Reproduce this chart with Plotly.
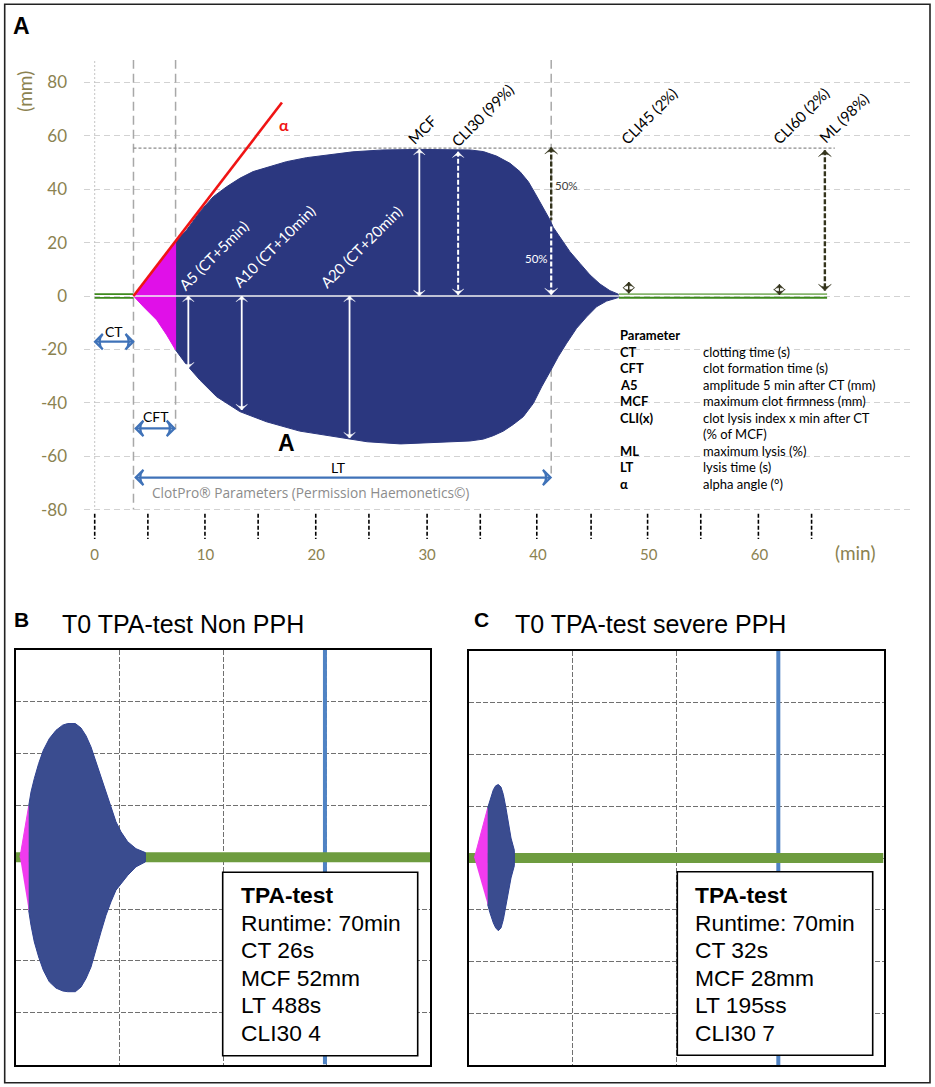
import plotly.graph_objects as go

W, H = 935, 1087

# panel A envelope (minutes, mm)
clot_min_up = [7.3, 8.3, 9.5, 10.7, 11.9, 13.1, 14.3, 15.5, 17.3, 19.1, 21.5, 23.3, 26.0, 29.4, 33.87, 35.07, 36.27, 37.48, 38.38, 39.14, 39.74, 40.34, 41.09, 41.39, 42.14, 42.89, 43.8, 44.7, 45.6, 46.5, 47.25]
clot_mm_up = [20.3, 24.7, 31.6, 37.2, 40.9, 44.1, 46.6, 48.1, 50.3, 51.8, 53.2, 54.0, 54.7, 54.9, 54.7, 54.1, 52.4, 49.7, 46.6, 42.8, 38.5, 34.1, 28.5, 25.7, 21.0, 16.6, 12.2, 7.9, 4.5, 2.0, 0.7]
clot_min_low = [7.3, 8.3, 9.5, 11.0, 13.1, 15.5, 18.5, 21.5, 24.6, 27.6, 33.87, 35.07, 35.98, 36.88, 37.78, 38.68, 39.59, 40.34, 41.09, 41.84, 42.59, 43.49, 44.4, 45.3, 46.2, 47.25]
clot_mm_low = [-20.2, -25.8, -31.5, -37.7, -43.3, -47.1, -50.6, -52.7, -54.6, -55.4, -54.3, -53.6, -52.3, -50.6, -48.1, -45.2, -40.2, -34.0, -28.4, -22.7, -17.7, -12.1, -7.8, -4.0, -1.9, -0.6]
pink_min = [3.5, 4.5, 5.3, 6.4, 7.3, 7.3, 6.5, 5.6, 4.4, 3.5]
pink_mm = [0, 5.5, 9.7, 15.5, 20.3, -20.2, -14.6, -9.0, -4.0, 0]

# panels B and C envelopes
b_pink_min = [0.77, 2.45, 2.45]
b_pink_mm = [0, 19.8, -20.5]
b_min_up = [2.45, 2.9, 3.54, 4.38, 5.28, 6.44, 7.73, 9.02, 9.98, 11.47, 12.56, 13.53, 14.49, 15.46, 16.43, 17.39, 18.36, 19.32, 20.29, 21.58, 23.19, 24.99]
b_mm_up = [19.8, 25.2, 30.4, 36.2, 41.3, 45.8, 49.0, 51.0, 51.6, 51.6, 49.9, 46.9, 42.6, 36.8, 30.4, 24.6, 18.8, 13.7, 9.8, 6.0, 3.3, 1.8]
b_mm_low = [-20.5, -26.3, -32.7, -38.5, -43.6, -48.1, -50.5, -51.6, -51.9, -51.9, -50.1, -46.8, -42.4, -35.9, -28.8, -22.4, -17.2, -12.7, -10.2, -7.0, -3.7, -1.8]
c_pink_min = [1.03, 3.6, 3.6]
c_pink_mm = [0, 19.3, -18.0]
c_min_up = [3.6, 4.05, 4.7, 5.15, 5.66, 6.18, 6.63, 7.08, 7.6, 8.11, 8.75]
c_mm_up = [19.3, 22.5, 26.4, 27.9, 28.4, 27.4, 24.5, 19.9, 13.5, 7.7, 3.0]
c_mm_low = [-18.0, -21.2, -25.1, -27.0, -28.1, -27.0, -23.8, -19.3, -13.5, -7.7, -3.0]
blue_line_min = 59.7

# reference lines of panel A
ct_min = 3.5
cft_min = 7.3
lt_min = 41.2
mcf_mm = 55.4
mcf_line_end = 66.8
green_end = 66.1
clot_end = 47.3
alpha_end_min = 16.9
alpha_end_mm = 72.5
black_tick_min = [0, 4.8, 9.95, 14.75, 19.95, 24.75, 30, 34.8, 39.9, 44.8, 49.9, 54.7, 59.9, 64.7]
y_ticks = [80, 60, 40, 20, 0, -20, -40, -60, -80]
y_tick_text = ["80", "60", "40", "20", "0", "-20", "-40", "-60", "-80"]
x_ticks = [0, 10, 20, 30, 40, 50, 60]

# arrows of panel A: min, start, end
solid_white_min = [8.45, 13.27, 23.0, 29.3]
solid_white_top = [0, 0, 0, 55]
solid_white_bottom = [-27, -42.7, -53.2, 0]
blue_arrow_mm = [-17.1, -49.6, -68]
blue_arrow_from = [0.03, 3.7, 3.7]
blue_arrow_to = [3.48, 7.2, 41.15]

# texts
rot_labels = ["A5 (CT+5min)", "A10 (CT+10min)", "A20 (CT+20min)", "MCF", "CLI30 (99%)", "CLI45 (2%)", "CLI60 (2%)", "ML (98%)"]
rot_min = [10.75, 16.2, 24.0, 29.5, 35.0, 50.0, 63.7, 67.6]
rot_mm = [15.4, 18.7, 18.5, 62.2, 67.8, 67.5, 67.5, 66.5]
rot_colors = ["white", "white", "white", "black", "black", "black", "black", "black"]
param_terms = ["Parameter", "CT", "CFT", "A5", "MCF", "CLI(x)", "", "ML", "LT", "α"]
param_defs = ["", "clotting time (s)", "clot formation time (s)", "amplitude 5 min after CT (mm)", "maximum clot firmness (mm)", "clot lysis index x min after CT", "(% of MCF)", "maximum lysis (%)", "lysis time (s)", "alpha angle (°)"]
b_box = ["TPA-test", "Runtime: 70min", "CT 26s", "MCF 52mm", "LT 488s", "CLI30 4"]
c_box = ["TPA-test", "Runtime: 70min", "CT 32s", "MCF 28mm", "LT 195ss", "CLI30 7"]

OLIVE = "#8b8250"
NAVY = "#2b377f"
PINK = "#e010e8"
NAVY2 = "#3a4c8f"
PINK2 = "#f13bef"
GREEN2 = "#6e9c3f"
BLUE = "#3f72b8"
BLUE2 = "#5083c4"
DARK = "#34341c"
GREY = "#a8a8a8"
ARIAL = "Liberation Sans"


def px(x):
    return x / W


def py(y):
    return 1 - y / H


fig = go.Figure()


def line(xs, ys, color, width, dash="solid", axis=""):
    fig.add_trace(go.Scatter(x=xs, y=ys, mode="lines", xaxis="x" + axis, yaxis="y" + axis,
                             line=dict(color=color, width=width, dash=dash), hoverinfo="skip"))


def fill(xs, ys, color, edge=None, axis=""):
    fig.add_trace(go.Scatter(x=xs, y=ys, mode="lines", fill="toself", fillcolor=color, xaxis="x" + axis, yaxis="y" + axis,
                             line=dict(color=edge or color, width=1), hoverinfo="skip"))


def arrow(xs, ys, color, width, angles, sizes, dash="solid", symbol="arrow-wide", head=0.5):
    fig.add_trace(go.Scatter(x=xs, y=ys, mode="lines+markers", line=dict(color=color, width=width, dash=dash),
                             marker=dict(symbol=symbol, angle=angles, size=sizes, color=color, opacity=1,
                                         line=dict(color=color, width=head)), hoverinfo="skip"))


# panel A
line([0, 0], [88, -80], "#c4c4c4", 1, "2px,2px")
line([ct_min, ct_min], [88.5, -80], GREY, 1.5, "9px,5px")
line([cft_min, cft_min], [88.5, -50], GREY, 1.5, "9px,5px")
line([lt_min, lt_min], [88.5, -66.5], GREY, 1.5, "9px,5px")
line([ct_min, mcf_line_end], [mcf_mm, mcf_mm], "#8c8c8c", 1.2, "3px,2px")
line([0, ct_min], [0.7, 0.7], "#3f8a1e", 1.6)
line([0, ct_min], [-0.7, -0.7], "#3f8a1e", 1.6)
line([clot_end, green_end], [0.7, 0.7], "#86b56c", 1.6)
line([clot_end, green_end], [-0.7, -0.7], "#3f8a1e", 2)
fill(clot_min_up + clot_min_low[::-1], clot_mm_up + clot_mm_low[::-1], NAVY)
fill(pink_min, pink_mm, PINK)
line([ct_min, clot_end], [0, 0], "#f2f2f2", 1.6)
line([ct_min, alpha_end_min], [0, alpha_end_mm], "#f01414", 2.6)

for t, a, b in zip(solid_white_min, solid_white_top, solid_white_bottom):
    arrow([t, t], [a, b], "white", 1.8, [0, 180], [8, 8])
arrow([32.8, 32.8], [54, 0.5], "white", 2, [0, 180], [8, 8], "5px,2px")
arrow([lt_min, lt_min], [26, 0.5], "white", 2.2, [0, 180], [0, 9], "5px,2px")
arrow([lt_min, lt_min], [55.6, 28.4], DARK, 2.4, [0, 180], [9, 0], "5px,2px")
arrow([65.9, 65.9], [54.6, 2], DARK, 2.4, [0, 180], [9, 9], "5px,2px")
arrow([48.2, 48.2], [5.2, 1], DARK, 1.5, [0, 180], [8, 8])
arrow([61.8, 61.8], [4.4, 0.4], DARK, 1.2, [0, 180], [8, 8])
for y, a, b in zip(blue_arrow_mm, blue_arrow_from, blue_arrow_to):
    arrow([a, b], [y, y], BLUE, 2.2, [-90, 90], [11, 11], symbol="arrow-wide-open", head=2.2)

tick_x, tick_y = [], []
for t in black_tick_min:
    tick_x += [t, t, None]
    tick_y += [-81.6, -91, None]
line(tick_x, tick_y, "black", 1.6, "4px,2px")

# panels B and C
for axis, up_x, up, low, px_, py_ in [("2", b_min_up, b_mm_up, b_mm_low, b_pink_min, b_pink_mm),
                                      ("3", c_min_up, c_mm_up, c_mm_low, c_pink_min, c_pink_mm)]:
    line([blue_line_min, blue_line_min], [-80, 80], BLUE2, 4, axis=axis)
    line([0, 80], [0, 0], GREEN2, 10, axis=axis)
    fill(px_, py_, PINK2, axis=axis)
    fill(up_x + up_x[::-1], up + low[::-1], NAVY2, edge="#2f4290", axis=axis)


def grid_axis(dom, **kw):
    return dict(domain=dom, showgrid=True, griddash="5px,2px", gridcolor="#707070", gridwidth=1.2,
                zeroline=False, showticklabels=False, ticks="", linecolor="black", linewidth=2, mirror=True,
                showline=True, **kw)


fig.update_layout(
    width=W, height=H, margin=dict(l=0, r=0, t=0, b=0), showlegend=False,
    paper_bgcolor="white", plot_bgcolor="rgba(0,0,0,0)",
    xaxis=dict(domain=[px(84), px(913)], range=[(84 - 94.7) / 11.08, (913 - 94.7) / 11.08], tickvals=x_ticks,
               showgrid=False, zeroline=False, showline=False, ticks="outside", ticklen=1, tickcolor="white",
               tickfont=dict(family="Lato", size=15, color=OLIVE), anchor="y"),
    yaxis=dict(domain=[py(540), py(60)], range=[(296 - 540) / 2.67, (296 - 60) / 2.67], tickvals=y_ticks,
               ticktext=y_tick_text, showgrid=True, griddash="6px,4px", gridcolor="#d2d2d2", gridwidth=1.2,
               zeroline=False, showline=False, ticks="outside", ticklen=12.5, tickcolor="white",
               tickfont=dict(family="Lato", size=17, color=OLIVE), anchor="x"),
    xaxis2=grid_axis([px(16), px(430)], range=[0, 80], dtick=20, anchor="y2"),
    yaxis2=grid_axis([py(1064.5), py(650)], range=[-80, 80], dtick=20, anchor="x2"),
    xaxis3=grid_axis([px(469), px(883.5)], range=[0, 80], dtick=20, anchor="y3"),
    yaxis3=grid_axis([py(1065), py(651)], range=[-80, 80], dtick=20, anchor="x3"),
)

shapes = [
    dict(type="rect", xref="paper", yref="paper", x0=px(4.7), x1=px(930), y0=py(4.3), y1=py(1082.7),
         line=dict(color="#222222", width=1.6), layer="below"),
    dict(type="rect", xref="paper", yref="paper", x0=px(603), x1=px(914), y0=py(335), y1=py(490),
         fillcolor="white", line=dict(width=0), layer="between"),
    dict(type="rect", xref="paper", yref="paper", x0=px(760), x1=px(868), y0=py(185), y1=py(198),
         fillcolor="white", line=dict(width=0), layer="between"),
    dict(type="rect", xref="paper", yref="paper", x0=px(222.7), x1=px(417.7), y0=py(872.3), y1=py(1055.7),
         fillcolor="white", line=dict(color="black", width=1.6), layer="above"),
    dict(type="rect", xref="paper", yref="paper", x0=px(677.3), x1=px(872.7), y0=py(871.7), y1=py(1055.3),
         fillcolor="white", line=dict(color="black", width=1.6), layer="above"),
]
fig.update_layout(shapes=shapes)

notes = []


def data_text(t, y, text, color="black", size=14, family="Lato", angle=0, bold=False):
    notes.append(dict(xref="x", yref="y", x=t, y=y, text="<b>%s</b>" % text if bold else text, showarrow=False,
                      textangle=angle, font=dict(family=family, size=size, color=color)))


def page_text(x, y, text, color="black", size=14, family="Lato", angle=0, bold=False, anchor="left"):
    notes.append(dict(xref="paper", yref="paper", x=px(x), y=py(y), text="<b>%s</b>" % text if bold else text,
                      showarrow=False, xanchor=anchor, yanchor="middle", textangle=angle,
                      font=dict(family=family, size=size, color=color)))


for text, t, y, col in zip(rot_labels, rot_min, rot_mm, rot_colors):
    data_text(t, y, text, col, 15, angle=-45)
data_text(17.1, 64.4, "<b>α</b>", "#f01414", 16)
data_text(42.6, 41.3, "50%", "#404040", 11.5)
data_text(39.9, 13.9, "50%", "white", 11.5)
data_text(1.74, -13.4, "CT", size=14)
data_text(5.5, -45.3, "CFT", size=14)
data_text(22, -64.4, "LT", size=14)
data_text(17.3, -55, "A", size=23, family=ARIAL, bold=True)
data_text(19.5, -73.7, "ClotPro® Parameters (Permission Haemonetics©)", "#8c8c8c", 13.7, "Open Sans")

page_text(25, 91.7, "(mm)", OLIVE, 19, angle=-90, anchor="center")
page_text(855, 552.7, "(min)", OLIVE, 19, anchor="center")

for i, (term, desc) in enumerate(zip(param_terms, param_defs)):
    y = 335 + i * 16.55
    if term:
        page_text(618, y, term, size=13, bold=True)
    if desc:
        page_text(700.7, y, desc, size=13)

page_text(21.7, 25.7, "A", size=23, family=ARIAL, bold=True, anchor="center")
page_text(21, 619, "B", size=21, family=ARIAL, bold=True, anchor="center")
page_text(481.7, 619, "C", size=21, family=ARIAL, bold=True, anchor="center")
page_text(60, 624, "T0 TPA-test Non PPH", size=25, family=ARIAL)
page_text(513, 624, "T0 TPA-test severe PPH", size=25, family=ARIAL)

for x0, lines in [(238.5, b_box), (693, c_box)]:
    for i, text in enumerate(lines):
        page_text(x0, 895 + i * 27.5, text, size=22.8, family=ARIAL, bold=(i == 0))

fig.update_layout(annotations=notes)
fig.write_html("out.html", config=dict(displayModeBar=False),
               post_script="document.body.style.margin='0';document.body.style.overflow='hidden';")
